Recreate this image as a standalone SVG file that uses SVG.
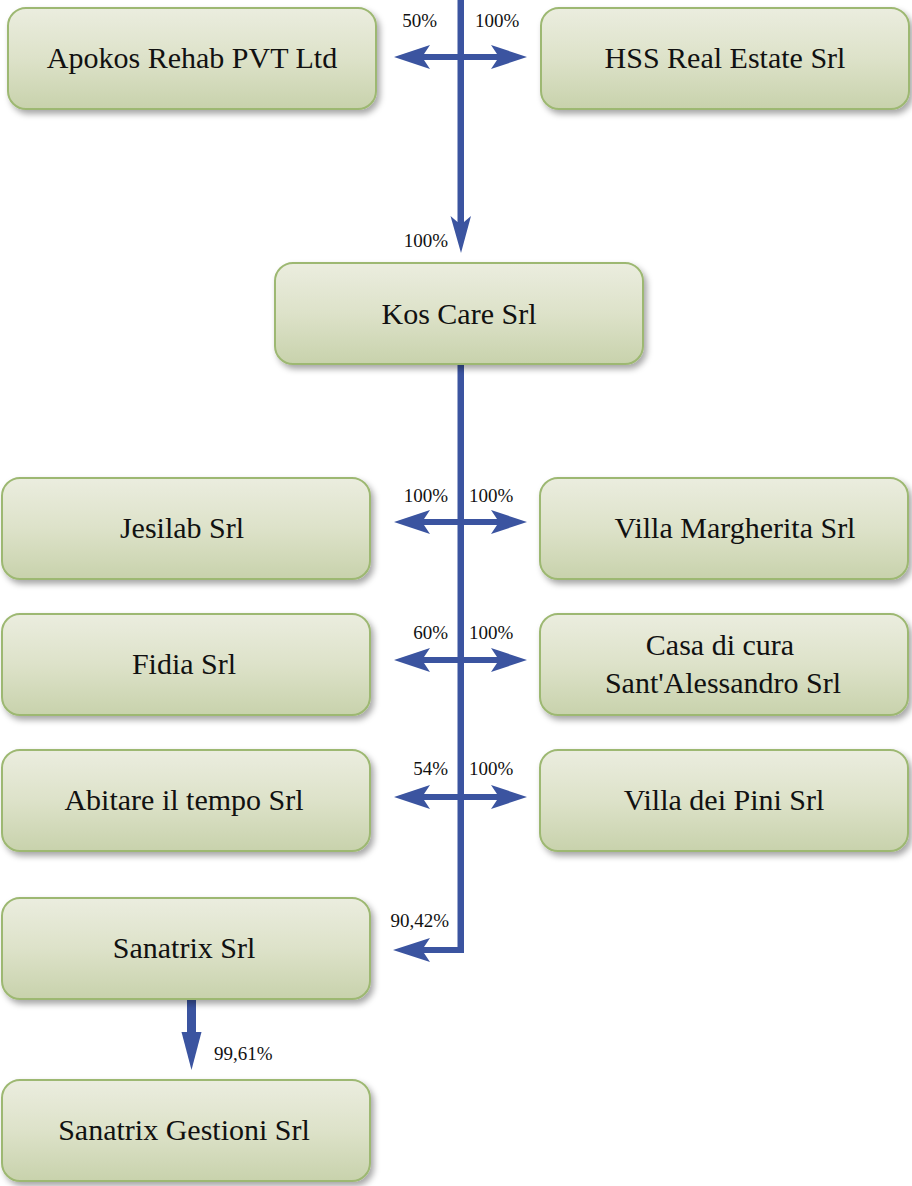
<svg xmlns="http://www.w3.org/2000/svg" width="912" height="1186" viewBox="0 0 912 1186">
<style>
.box{fill:url(#g);stroke:#9db872;stroke-width:2;filter:url(#sh)}
.t{font-family:"Liberation Serif","DejaVu Serif",serif;font-size:30px;fill:#111;text-anchor:middle}
.p{font-family:"Liberation Serif","DejaVu Serif",serif;font-size:19px;fill:#111}
.e{text-anchor:end}
.a{fill:#3b54a0;stroke:none}
</style>
<defs>
<linearGradient id="g" x1="0" y1="0" x2="0" y2="1">
<stop offset="0" stop-color="#ebeddf"/>
<stop offset="0.5" stop-color="#dde2c9"/>
<stop offset="1" stop-color="#c8d2ac"/>
</linearGradient>
<filter id="sh" x="-10%" y="-10%" width="125%" height="140%">
<feDropShadow dx="3" dy="4" stdDeviation="3" flood-color="#000" flood-opacity="0.35"/>
</filter>
</defs>
<rect width="912" height="1186" fill="#fff"/>
<g id="connectors">
<rect class="a" x="457.5" y="0" width="6.5" height="224"/>
<polygon class="a" points="461,253 450.5,216 457.5,222 464,222 471,216"/>
<polygon class="a" points="394,57 430,45 424,54 497,54 491,45 527,57 491,69 497,60 424,60 430,69"/>
<rect class="a" x="457.5" y="364" width="6.5" height="589"/>
<polygon class="a" points="394,522 430,510 424,519 497,519 491,510 527,522 491,534 497,525 424,525 430,534"/>
<polygon class="a" points="394,660 430,648 424,657 497,657 491,648 527,660 491,672 497,663 424,663 430,672"/>
<polygon class="a" points="394,797 430,785 424,794 497,794 491,785 527,797 491,809 497,800 424,800 430,809"/>
<polygon class="a" points="393,950 430,938 424,947 460,947 460,953 424,953 430,962"/>
<rect class="a" x="187" y="1000" width="9" height="36"/>
<polygon class="a" points="191.5,1070 181.5,1032 201.5,1032"/>
<text class="p e" x="437" y="27">50%</text>
<text class="p" x="475" y="27">100%</text>
<text class="p e" x="448" y="247">100%</text>
<text class="p e" x="448" y="502">100%</text>
<text class="p" x="469" y="502">100%</text>
<text class="p e" x="448" y="639">60%</text>
<text class="p" x="469" y="639">100%</text>
<text class="p e" x="448" y="775">54%</text>
<text class="p" x="469" y="775">100%</text>
<text class="p e" x="449" y="927">90,42%</text>
<text class="p" x="214" y="1060">99,61%</text>
</g>
<g id="apokos"><rect class="box" x="8" y="8" width="368" height="101" rx="18"/><text class="t" x="192" y="68">Apokos Rehab PVT Ltd</text></g>
<g id="hss"><rect class="box" x="541" y="8" width="368" height="101" rx="18"/><text class="t" x="725" y="68">HSS Real Estate Srl</text></g>
<g id="kos"><rect class="box" x="275" y="263" width="368" height="101" rx="18"/><text class="t" x="459" y="324">Kos Care Srl</text></g>
<g id="jesilab"><rect class="box" x="2" y="478" width="368" height="101" rx="18"/><text class="t" x="182" y="538">Jesilab Srl</text></g>
<g id="margherita"><rect class="box" x="540" y="478" width="368" height="101" rx="18"/><text class="t" x="735" y="538">Villa Margherita Srl</text></g>
<g id="fidia"><rect class="box" x="2" y="614" width="368" height="101" rx="18"/><text class="t" x="184" y="674">Fidia Srl</text></g>
<g id="casa"><rect class="box" x="540" y="614" width="368" height="101" rx="18"/><text class="t" x="720" y="655">Casa di cura</text><text class="t" x="723" y="693">Sant'Alessandro Srl</text></g>
<g id="abitare"><rect class="box" x="2" y="750" width="368" height="101" rx="18"/><text class="t" x="184" y="810">Abitare il tempo Srl</text></g>
<g id="pini"><rect class="box" x="540" y="750" width="368" height="101" rx="18"/><text class="t" x="724" y="810">Villa dei Pini Srl</text></g>
<g id="sanatrix"><rect class="box" x="2" y="898" width="368" height="101" rx="18"/><text class="t" x="184" y="958">Sanatrix Srl</text></g>
<g id="gestioni"><rect class="box" x="2" y="1080" width="368" height="101" rx="18"/><text class="t" x="184" y="1140">Sanatrix Gestioni Srl</text></g>
</svg>
